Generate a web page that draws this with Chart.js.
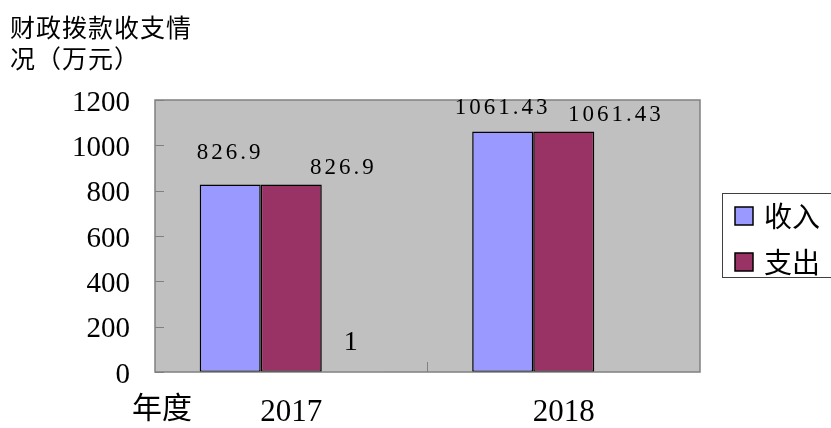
<!DOCTYPE html>
<html>
<head>
<meta charset="utf-8">
<script src="https://cdn.jsdelivr.net/npm/chart.js@4/dist/chart.umd.min.js"></script>
<style>
  html, body { margin: 0; padding: 0; background: #fff; }
  #wrap { width: 831px; height: 428px; }
</style>
</head>
<body>
<div id="wrap"><canvas id="fundChart"></canvas></div>
<script>
// data
var years = ['2017', '2018'];
var income = [826.9, 1061.43];
var spending = [826.9, 1061.43];
var extraSeries = [1, null];   // stray third series, only its label "1" shows
var yTicks = [0, 200, 400, 600, 800, 1000, 1200];
var titleLines = ['财政拨款收支情', '况（万元）'];
var xAxisName = '年度';
var legendNames = ['收入', '支出'];

var serif = '"Liberation Serif", "Times New Roman", serif';
var cjk = '"Noto Sans CJK SC", sans-serif';

// label offsets per dataset, like the Excel original: dx from bar centre, gap under text
var labelOffsets = [
    { dx: 0, gap: 20, size: 23 },
    { dx: 52, gap: 5, size: 23 },
    { dx: 0, gap: 15, size: 28 }
];

var decorPlugin = {
    id: 'decor',
    beforeDraw: function(chart) {
        var ctx = chart.ctx, a = chart.chartArea;
        ctx.save();
        ctx.fillStyle = '#fff';
        ctx.fillRect(0, 0, chart.width, chart.height);
        ctx.fillStyle = '#c0c0c0';
        ctx.fillRect(a.left, a.top, a.right - a.left, a.bottom - a.top);
        ctx.restore();
    },
    afterDatasetsDraw: function(chart) {
        var ctx = chart.ctx, a = chart.chartArea;
        ctx.save();
        // plot frame
        ctx.strokeStyle = '#808080';
        ctx.lineWidth = 1.5;
        ctx.strokeRect(a.left, a.top, a.right - a.left, a.bottom - a.top);
        // inside tick marks
        var y = chart.scales.y, x = chart.scales.x;
        ctx.lineWidth = 1;
        yTicks.forEach(function(v) {
            var py = Math.round(y.getPixelForValue(v)) + 0.5;
            ctx.beginPath();
            ctx.moveTo(a.left, py);
            ctx.lineTo(a.left + 9, py);
            ctx.stroke();
        });
        for (var i = 1; i < years.length; i++) {
            var bx = Math.round((x.getPixelForValue(i - 1) + x.getPixelForValue(i)) / 2) - 0.5;
            ctx.beginPath();
            ctx.moveTo(bx, a.bottom);
            ctx.lineTo(bx, a.bottom - 10);
            ctx.stroke();
        }

        // value labels
        ctx.fillStyle = '#000';
        ctx.letterSpacing = '3px';
        ctx.textAlign = 'center';
        ctx.textBaseline = 'bottom';
        chart.data.datasets.forEach(function(ds, di) {
            var meta = chart.getDatasetMeta(di);
            var off = labelOffsets[di];
            ctx.font = off.size + 'px ' + serif;
            meta.data.forEach(function(bar, j) {
                var v = ds.data[j];
                if (v === null || v === undefined) return;
                var ty = bar.y - off.gap;
                if (ty < a.top + 19) ty = a.top + 19;
                ctx.fillText(String(v), bar.x + off.dx, ty);
            });
        });
        ctx.letterSpacing = '0px';

        // title
        ctx.font = '25px ' + cjk;
        ctx.textAlign = 'left';
        ctx.textBaseline = 'middle';
        ctx.letterSpacing = '1px';
        ctx.fillText(titleLines[0], 10, 27);
        ctx.fillText(titleLines[1], 10, 58);
        ctx.letterSpacing = '0px';

        // axis name
        ctx.font = '30px ' + cjk;
        ctx.fillText(xAxisName, 132, 407);

        // legend
        ctx.strokeStyle = '#404040';
        ctx.lineWidth = 1;
        ctx.strokeRect(722.5, 193.5, 120, 84);
        ctx.font = '28px ' + cjk;
        legendNames.forEach(function(name, k) {
            var cy = 216 + k * 46;
            var ds = chart.data.datasets[k];
            ctx.fillStyle = ds.backgroundColor;
            ctx.fillRect(735, cy - 9, 18, 18);
            ctx.strokeStyle = '#000';
            ctx.lineWidth = 1.5;
            ctx.strokeRect(735, cy - 9, 18, 18);
            ctx.fillStyle = '#000';
            ctx.fillText(name, 764, cy);
        });
        ctx.restore();
    }
};

var ctx = document.getElementById('fundChart').getContext('2d');
var chart = new Chart(ctx, {
    type: 'bar',
    data: {
        labels: years,
        datasets: [
            {
                label: legendNames[0],
                data: income,
                backgroundColor: '#9999ff',
                borderColor: '#000',
                borderWidth: 1.5,
                borderSkipped: false
            },
            {
                label: legendNames[1],
                data: spending,
                backgroundColor: '#993366',
                borderColor: '#000',
                borderWidth: 1.5,
                borderSkipped: false
            },
            {
                label: '系列3',
                data: extraSeries,
                backgroundColor: '#ffffcc',
                borderWidth: 0
            }
        ]
    },
    options: {
        responsive: true,
        maintainAspectRatio: false,
        devicePixelRatio: 1,
        animation: false,
        events: [],
        layout: { padding: { left: 0, top: 100, right: 131, bottom: 0 } },
        categoryPercentage: 0.672,
        barPercentage: 1,
        plugins: {
            legend: { display: false },
            tooltip: { enabled: false }
        },
        scales: {
            x: {
                grid: { display: false, drawTicks: false },
                border: { display: false },
                ticks: {
                    color: '#000',
                    font: { family: serif, size: 31 },
                    padding: 22
                },
                afterFit: function(s) { s.height = 56; }
            },
            y: {
                min: 0,
                max: 1200,
                grid: { display: false, drawTicks: false },
                border: { display: false },
                ticks: {
                    stepSize: 200,
                    color: '#000',
                    font: { family: serif, size: 29 },
                    padding: 25,
                    labelOffset: 3,
                    callback: function(v) { return String(v); }
                },
                afterFit: function(s) { s.width = 155; }
            }
        }
    },
    plugins: [decorPlugin]
});
</script>
</body>
</html>
